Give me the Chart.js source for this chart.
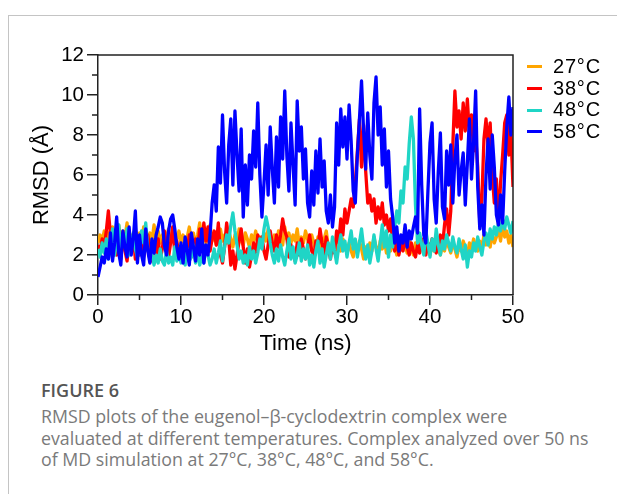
<!DOCTYPE html>
<html>
<head>
<meta charset="utf-8">
<script src="https://cdn.jsdelivr.net/npm/chart.js@4"></script>
<style>
  html, body { margin: 0; padding: 0; background: #fff; }
  #page { position: relative; width: 617px; height: 494px; overflow: hidden; }
  #box { position: absolute; left: 8px; top: 15px; right: -2px; bottom: -2px; border-top: 1px solid #c4c4c4; border-left: 1px solid #c4c4c4; }
  #chart { position: absolute; left: 0; top: 0; }
  #legend { position: absolute; left: 527px; top: 56px; font: 20px "Liberation Sans", Arial, sans-serif; color: #000; }
  #legend .row { height: 21.7px; line-height: 21.7px; white-space: nowrap; }
  #legend .sw { display: inline-block; width: 15px; height: 3px; vertical-align: middle; margin-right: 11px; position: relative; top: -1px; }
  #legend .lbl { letter-spacing: 0.8px; }
  #fig { position: absolute; left: 41px; top: 379px; font: 600 18px "Open Sans", sans-serif; color: #555; line-height: 22px; }
  #cap { position: absolute; left: 41px; top: 406px; font: 17.8px "Open Sans", sans-serif; color: #7a7a7a; line-height: 21.7px; white-space: nowrap; }
</style>
</head>
<body>
<div id="page">
  <div id="box"></div>
  <canvas id="chart" width="617" height="370"></canvas>
  <div id="legend"></div>
  <div id="fig">FIGURE 6</div>
  <div id="cap">RMSD plots of the eugenol–β-cyclodextrin complex were<br>evaluated at different temperatures. Complex analyzed over 50 ns<br>of MD simulation at 27°C, 38°C, 48°C, and 58°C.</div>
</div>
<script>
// RMSD (Å) sampled every 0.25 ns, 0 – 50 ns
const STEP = 0.25;
const seriesLabels = ['27°C', '38°C', '48°C', '58°C'];
const seriesColors = ['#ffa500', '#ff0000', '#1fd5c6', '#0000ff'];

const rmsd27 = [
  2.6, 3.0, 2.7, 3.2, 2.5, 3.1, 2.8, 3.4, 2.6, 3.0, 3.5, 2.7, 3.2, 2.9, 3.6, 2.6, 3.0, 2.5, 3.3, 2.8, 3.1,
  2.6, 3.4, 2.9, 2.5, 3.1, 2.7, 3.5, 2.8, 3.2, 2.6, 3.0, 2.4, 2.9, 3.3, 2.7, 3.1, 2.5, 2.8, 3.2, 2.6,
  3.0, 2.4, 2.9, 3.4, 2.7, 3.1, 2.5, 3.0, 3.6, 2.8, 3.2, 2.6, 3.0, 3.5, 2.7, 3.1, 2.5, 2.9, 3.3, 2.7,
  3.0, 2.6, 3.2, 2.8, 2.4, 3.0, 2.6, 3.3, 2.7, 2.5, 3.1, 2.8, 2.4, 3.0, 2.7, 3.2, 2.6, 2.9, 2.5, 3.1,
  2.7, 3.3, 2.8, 2.5, 3.0, 2.6, 3.2, 2.9, 2.5, 3.4, 2.8, 3.1, 2.6, 3.0, 2.7, 3.3, 2.5, 2.9, 2.6, 3.2,
  2.8, 2.4, 3.0, 2.6, 2.2, 2.9, 2.5, 2.1, 2.8, 3.2, 2.4, 2.0, 2.7, 2.3, 1.9, 2.6, 2.2, 2.8, 2.4, 2.1,
  2.6, 2.2, 1.9, 2.5, 2.1, 2.7, 2.3, 1.8, 2.4, 2.0, 2.6, 2.2, 2.9, 2.4, 2.0, 2.7, 2.3, 2.8, 2.1, 2.5,
  2.2, 2.8, 2.4, 2.0, 2.6, 2.3, 2.9, 2.5, 2.1, 2.7, 2.3, 2.0, 2.6, 2.2, 2.8, 2.4, 2.1, 2.6, 2.3, 2.0,
  2.5, 2.2, 2.7, 2.3, 2.0, 2.5, 2.2, 2.8, 2.4, 2.1, 2.6, 2.3, 1.9, 2.5, 2.2, 2.7, 2.4, 2.0, 2.6, 2.3,
  2.8, 2.4, 2.2, 2.7, 2.3, 3.0, 2.5, 2.8, 2.4, 3.1, 2.6, 2.9, 3.3, 2.7, 3.5, 2.9, 3.2, 2.6, 3.0, 2.4
];

const rmsd38 = [
  2.5, 2.2, 2.8, 2.4, 3.2, 4.2, 3.0, 1.9, 2.4, 2.0, 2.7, 1.8, 3.1, 2.2, 1.7, 2.6, 2.1, 3.0, 1.8, 2.5, 2.0,
  2.7, 1.9, 2.4, 3.0, 2.2, 1.7, 2.6, 2.0, 2.8, 1.8, 2.3, 3.2, 2.5, 1.9, 2.6, 3.4, 2.1, 2.7, 2.0, 2.4,
  1.8, 2.6, 2.2, 3.0, 1.9, 2.5, 2.8, 2.1, 3.3, 2.4, 3.6, 2.7, 3.4, 2.2, 2.8, 3.2, 2.5, 3.6, 2.0, 1.6,
  2.4, 3.6, 2.8, 1.5, 2.2, 1.3, 2.0, 2.7, 3.3, 2.4, 1.6, 2.3, 1.4, 2.0, 2.6, 1.8, 3.0, 2.4, 2.9, 2.2,
  1.8, 2.5, 3.2, 2.6, 2.2, 3.0, 2.4, 3.0, 3.8, 3.2, 2.9, 1.9, 2.5, 2.1, 1.7, 2.6, 2.0, 2.8, 2.3, 1.8,
  2.4, 3.0, 2.2, 1.9, 2.7, 2.3, 3.3, 2.6, 2.0, 2.9, 2.4, 1.8, 2.5, 2.1, 3.2, 2.6, 3.8, 3.0, 4.3, 3.6,
  4.2, 4.8, 4.4, 5.6, 7.2, 8.8, 6.4, 8.5, 6.2, 4.6, 5.0, 4.2, 4.8, 3.6, 4.4, 3.8, 4.6, 3.5, 4.0, 3.2,
  3.8, 2.6, 2.2, 2.8, 2.0, 2.5, 2.2, 2.9, 2.4, 2.0, 2.6, 2.2, 1.9, 2.5, 2.1, 2.8, 2.3, 2.0, 2.6, 2.2,
  2.8, 2.4, 2.1, 2.6, 3.0, 2.4, 3.5, 4.3, 3.0, 4.2, 7.5, 10.2, 8.4, 9.2, 7.8, 9.6, 8.2, 9.8, 8.0, 9.0,
  7.2, 8.0, 6.4, 3.6, 4.8, 7.8, 8.8, 7.4, 8.6, 6.0, 4.6, 5.8, 3.5, 5.6, 7.0, 8.6, 9.0, 7.0, 8.2, 5.4
];

const rmsd48 = [
  2.3, 1.9, 2.6, 2.1, 2.8, 1.8, 2.4, 3.3, 2.0, 2.7, 3.5, 2.2, 2.9, 2.4, 3.3, 2.0, 2.6, 3.1, 2.3, 1.9, 2.5,
  3.2, 2.6, 3.6, 2.3, 1.8, 2.1, 1.5, 2.0, 1.6, 2.3, 1.7, 1.5, 2.2, 1.6, 1.9, 1.5, 2.4, 1.7, 2.1, 1.6,
  2.0, 1.5, 2.3, 1.7, 1.9, 2.5, 1.6, 2.2, 1.5, 1.9, 1.6, 2.4, 2.0, 1.5, 1.8, 2.3, 1.6, 2.1, 2.7, 1.7,
  2.4, 3.0, 2.6, 3.5, 4.1, 3.2, 2.5, 1.8, 2.2, 1.6, 2.0, 1.5, 2.4, 1.8, 2.2, 1.6, 2.1, 2.8, 2.3, 3.3,
  3.9, 3.4, 2.6, 2.0, 1.6, 2.3, 1.7, 2.5, 1.9, 1.5, 2.2, 2.8, 1.8, 2.4, 1.6, 2.0, 2.6, 1.7, 2.3, 1.8,
  2.5, 1.5, 2.0, 1.4, 2.2, 2.7, 1.6, 2.3, 1.4, 2.0, 2.6, 1.8, 2.9, 2.2, 1.6, 2.4, 3.0, 2.2, 2.7, 1.9,
  2.6, 3.2, 2.3, 2.8, 1.9, 2.6, 3.3, 2.4, 1.8, 2.5, 1.6, 2.2, 3.0, 2.3, 1.7, 2.6, 3.5, 2.4, 3.2, 1.9,
  3.0, 2.4, 3.4, 4.2, 3.6, 5.2, 4.6, 6.4, 5.8, 7.6, 8.9, 7.8, 4.5, 2.6, 3.1, 2.5, 2.0, 3.2, 2.6, 1.9,
  2.8, 2.2, 3.3, 2.5, 2.0, 2.7, 2.3, 3.0, 2.6, 2.2, 2.9, 2.4, 2.1, 2.8, 2.3, 1.8, 2.5, 1.4, 2.2, 1.9,
  2.6, 2.2, 2.9, 2.4, 2.0, 2.7, 3.1, 2.5, 3.3, 2.8, 3.4, 3.0, 3.6, 3.2, 3.8, 3.3, 3.9, 3.5, 3.1, 3.7
];

const rmsd58 = [
  0.9, 1.4, 1.9, 1.6, 2.3, 1.8, 3.1, 1.7, 2.6, 3.9, 2.1, 1.5, 3.2, 2.4, 1.9, 3.4, 2.0, 2.8, 4.2, 1.6, 3.0,
  2.0, 1.5, 3.3, 2.2, 1.6, 2.8, 2.1, 3.0, 3.4, 3.9, 3.6, 2.5, 2.0, 3.2, 3.8, 4.0, 3.3, 2.4, 1.8, 2.6,
  1.6, 2.9, 2.2, 1.5, 3.1, 2.4, 1.7, 2.8, 2.0, 3.3, 1.6, 2.5, 2.0, 3.0, 4.6, 5.5, 4.2, 7.4, 5.6, 9.0,
  6.2, 4.6, 7.5, 8.8, 5.5, 9.2, 7.0, 5.2, 8.3, 3.9, 6.5, 4.5, 7.0, 5.8, 8.2, 6.4, 9.6, 6.0, 3.9, 5.6,
  7.5, 5.0, 8.4, 6.3, 4.6, 7.9, 5.4, 8.9, 6.8, 10.2, 7.0, 5.2, 8.6, 6.5, 4.5, 9.7, 7.2, 8.4, 5.8, 7.3,
  4.6, 3.9, 6.2, 4.5, 7.2, 5.1, 7.8, 5.4, 6.7, 4.2, 3.6, 5.0, 3.4, 4.4, 8.6, 6.5, 9.3, 7.4, 8.9, 6.8,
  9.5, 7.7, 5.2, 4.6, 7.0, 8.8, 10.7, 8.2, 6.3, 9.1, 7.0, 5.8, 9.6, 10.9, 8.0, 9.4, 6.5, 8.3, 5.4, 7.2,
  4.8, 3.9, 2.6, 3.4, 2.2, 3.0, 2.6, 3.5, 2.4, 3.2, 2.8, 3.4, 3.9, 3.1, 9.3, 5.5, 3.0, 2.6, 5.2, 7.6,
  8.6, 4.8, 3.6, 6.2, 8.1, 4.4, 3.8, 7.2, 5.5, 7.5, 4.6, 6.8, 8.0, 5.0, 6.2, 7.1, 4.5, 6.6, 8.8, 5.8,
  7.6, 10.2, 5.4, 3.3, 4.5, 3.0, 6.0, 7.8, 5.3, 8.0, 6.4, 4.0, 3.5, 5.0, 3.6, 6.2, 8.4, 9.9, 8.0, 9.4
];

const xMajorTicks = [0, 10, 20, 30, 40, 50];
const xMinorTicks = [5, 15, 25, 35, 45];
const yMinorTicks = [1, 3, 5, 7, 9, 11];

const allSeries = [rmsd27, rmsd38, rmsd48, rmsd58];
const drawOrder = [3, 2, 1, 0]; // 58°C on top, then 48, 38, 27

const AXIS = '#222';
Chart.defaults.font.family = '"Liberation Sans", Arial, sans-serif';
Chart.defaults.color = '#000';

// box round the plot and minor ticks
const frame = {
  id: 'frame',
  afterDraw(chart) {
    const { ctx, chartArea: a, scales: { x, y } } = chart;
    ctx.save();
    ctx.strokeStyle = AXIS;
    ctx.lineWidth = 1.5;
    ctx.beginPath();
    ctx.moveTo(a.left, a.top);
    ctx.lineTo(a.right, a.top);
    ctx.lineTo(a.right, a.bottom);
    xMinorTicks.forEach(v => {
      const px = x.getPixelForValue(v);
      ctx.moveTo(px, a.bottom);
      ctx.lineTo(px, a.bottom + 5);
    });
    yMinorTicks.forEach(v => {
      const py = y.getPixelForValue(v);
      ctx.moveTo(a.left, py);
      ctx.lineTo(a.left - 6, py);
    });
    ctx.stroke();
    ctx.restore();
  }
};

new Chart(document.getElementById('chart'), {
  type: 'line',
  data: {
    datasets: allSeries.map((vals, k) => ({
      label: seriesLabels[k],
      data: vals.map((v, i) => ({ x: i * STEP, y: v })),
      borderColor: seriesColors[k],
      backgroundColor: seriesColors[k],
      borderWidth: 3.3,
      borderJoinStyle: 'round',
      pointRadius: 0,
      tension: 0,
      order: drawOrder[k],
    }))
  },
  options: {
    responsive: false,
    animation: false,
    events: [],
    layout: { padding: { top: 55, right: 104, bottom: 0, left: 0 } },
    plugins: { legend: { display: false }, tooltip: { enabled: false } },
    scales: {
      x: {
        type: 'linear', min: 0, max: 50,
        afterFit: s => { s.height = 75; },
        afterBuildTicks: s => { s.ticks = xMajorTicks.map(v => ({ value: v })); },
        ticks: { font: { size: 20.5 }, padding: 0, maxRotation: 0 },
        grid: { drawOnChartArea: false, drawTicks: true, tickLength: 10, color: AXIS, lineWidth: 1.5 },
        border: { display: true, color: AXIS, width: 1.5 },
        title: { display: true, text: 'Time (ns)', font: { size: 22 }, padding: { top: 0, bottom: 13 } }
      },
      y: {
        min: 0, max: 12,
        afterFit: s => { s.width = 98; },
        ticks: { stepSize: 2, font: { size: 20.5 }, padding: 3 },
        grid: { drawOnChartArea: false, drawTicks: true, tickLength: 11, color: AXIS, lineWidth: 1.5 },
        border: { display: true, color: AXIS, width: 1.5 },
        title: { display: true, text: 'RMSD (Å)', font: { size: 22 }, padding: { top: 29, bottom: 0 } }
      }
    }
  },
  plugins: [frame]
});

// legend beside the plot
const legendEl = document.getElementById('legend');
seriesLabels.forEach((lbl, k) => {
  const row = document.createElement('div');
  row.className = 'row';
  row.innerHTML = `<span class="sw" style="background:${seriesColors[k]}"></span><span class="lbl">${lbl}</span>`;
  legendEl.appendChild(row);
});
</script>
</body>
</html>
